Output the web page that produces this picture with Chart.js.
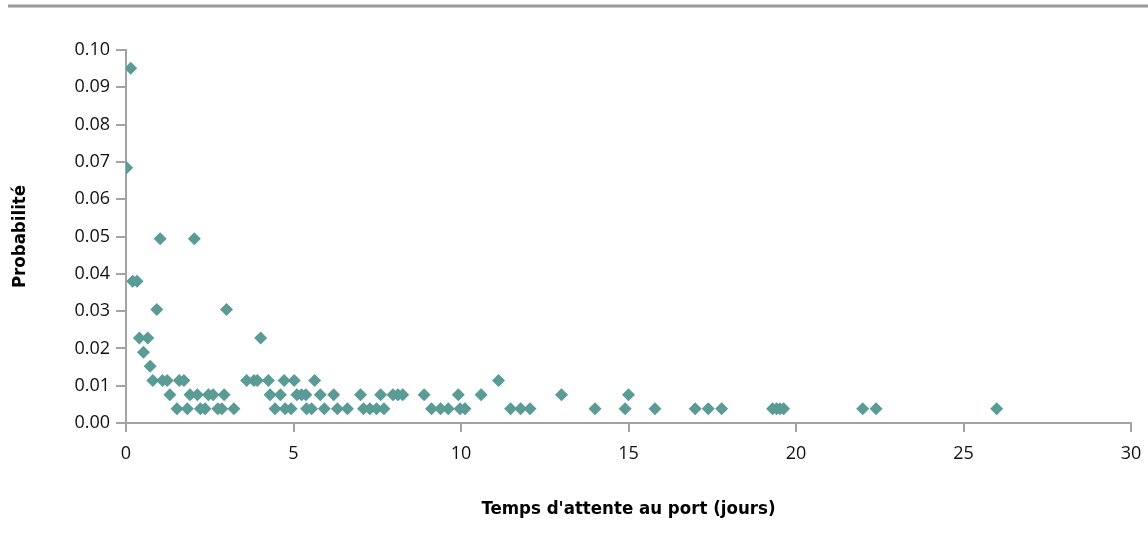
<!DOCTYPE html>
<html>
<head>
<meta charset="utf-8">
<script src="https://cdn.jsdelivr.net/npm/chart.js@4"></script>
<style>
  html, body { margin: 0; padding: 0; background: #fff; }
  #wrap { width: 1148px; height: 541px; }
</style>
</head>
<body>
<div id="wrap"><canvas id="myChart" width="1148" height="541"></canvas></div>
<script>
// waiting time at port (days) and matching probability
const waitDays = [
  0.02, 0.14, 0.20, 0.33, 0.40, 0.65, 0.52, 0.72, 0.92, 3.00, 1.02, 2.04, 4.02,
  0.80, 1.09, 1.23, 1.59, 1.73, 3.60, 3.82, 3.92, 4.25, 4.72, 5.02, 5.63, 11.12,
  1.31, 1.91, 2.13, 2.46, 2.60, 2.93, 4.30, 4.61, 5.10, 5.24, 5.37, 5.80, 6.20, 7.00,
  7.60, 7.97, 8.12, 8.26, 8.90, 9.92, 10.60, 13.00, 15.00,
  1.52, 1.83, 2.22, 2.36, 2.74, 2.86, 3.22, 4.45, 4.75, 4.93, 5.39, 5.54, 5.92, 6.31,
  6.61, 7.09, 7.28, 7.48, 7.70, 9.12, 9.39, 9.62, 9.97, 10.12, 11.48, 11.78, 12.06,
  14.00, 14.90, 15.79, 16.99, 17.38, 17.78, 19.30, 19.42, 19.52, 19.63, 21.99, 22.39, 25.99
];
const probability = [
  0.0684, 0.0951, 0.0380, 0.0380, 0.0228, 0.0228, 0.0190, 0.0152, 0.0304, 0.0304, 0.0494, 0.0494, 0.0228,
  0.0114, 0.0114, 0.0114, 0.0114, 0.0114, 0.0114, 0.0114, 0.0114, 0.0114, 0.0114, 0.0114, 0.0114, 0.0114,
  0.0076, 0.0076, 0.0076, 0.0076, 0.0076, 0.0076, 0.0076, 0.0076, 0.0076, 0.0076, 0.0076, 0.0076, 0.0076, 0.0076,
  0.0076, 0.0076, 0.0076, 0.0076, 0.0076, 0.0076, 0.0076, 0.0076, 0.0076,
  0.0038, 0.0038, 0.0038, 0.0038, 0.0038, 0.0038, 0.0038, 0.0038, 0.0038, 0.0038, 0.0038, 0.0038, 0.0038, 0.0038,
  0.0038, 0.0038, 0.0038, 0.0038, 0.0038, 0.0038, 0.0038, 0.0038, 0.0038, 0.0038, 0.0038, 0.0038, 0.0038,
  0.0038, 0.0038, 0.0038, 0.0038, 0.0038, 0.0038, 0.0038, 0.0038, 0.0038, 0.0038, 0.0038, 0.0038, 0.0038
];

const xTitle = "Temps d'attente au port (jours)";
const yTitle = 'Probabilité';

const axisGray = '#a3a3a3';
const tickFont = { family: 'Open Sans', size: 18 };
const titleFont = { family: "'Liberation Sans Narrow', 'DejaVu Sans Condensed', sans-serif", size: 18.5, weight: 'bold' };

const topRule = {
  id: 'topRule',
  beforeDraw(chart) {
    const ctx = chart.ctx;
    ctx.save();
    ctx.strokeStyle = '#9a9a9a';
    ctx.lineWidth = 3;
    ctx.beginPath();
    ctx.moveTo(8, 6);
    ctx.lineTo(chart.width, 6);
    ctx.stroke();
    ctx.restore();
  }
};

const points = waitDays.map((d, i) => ({ x: d, y: probability[i] }));

const context = document.getElementById('myChart').getContext('2d');

const config = {
  type: 'scatter',
  data: {
    datasets: [
      {
        label: yTitle,
        data: points,
        pointStyle: 'rectRot',
        pointRadius: 6.5,
        pointHoverRadius: 6.5,
        backgroundColor: '#5a9b96',
        borderColor: '#5a9b96',
        borderWidth: 0,
      },
    ],
  },
  options: {
    responsive: false,
    animation: false,
    layout: { padding: { top: 50, right: 17, bottom: 0, left: 0 } },
    plugins: {
      legend: { display: false },
      tooltip: { enabled: false },
    },
    scales: {
      x: {
        type: 'linear',
        min: 0,
        max: 30,
        ticks: { stepSize: 5, color: '#111', font: tickFont, padding: 11 },
        grid: { drawOnChartArea: false, drawTicks: true, tickLength: 9, color: axisGray, lineWidth: 2 },
        border: { color: axisGray, width: 2 },
        title: { display: true, text: xTitle, color: '#000', font: titleFont, padding: { top: 4, bottom: 21 } },
        afterFit(scale) {
          scale.height = 118;
          scale.paddingRight = 0;
          scale.paddingLeft = 0;
        },
      },
      y: {
        min: 0,
        max: 0.1,
        ticks: {
          stepSize: 0.01,
          color: '#111',
          font: tickFont,
          padding: 6,
          callback: (v) => v.toFixed(2),
        },
        grid: { drawOnChartArea: false, drawTicks: true, tickLength: 10, color: axisGray, lineWidth: 2 },
        border: { color: axisGray, width: 2 },
        title: { display: true, text: yTitle, color: '#000', font: titleFont, padding: { top: 9, bottom: 0 } },
        afterFit(scale) { scale.width = 126; },
      },
    },
  },
  plugins: [topRule],
};

const myChart = new Chart(context, config);
</script>
</body>
</html>
